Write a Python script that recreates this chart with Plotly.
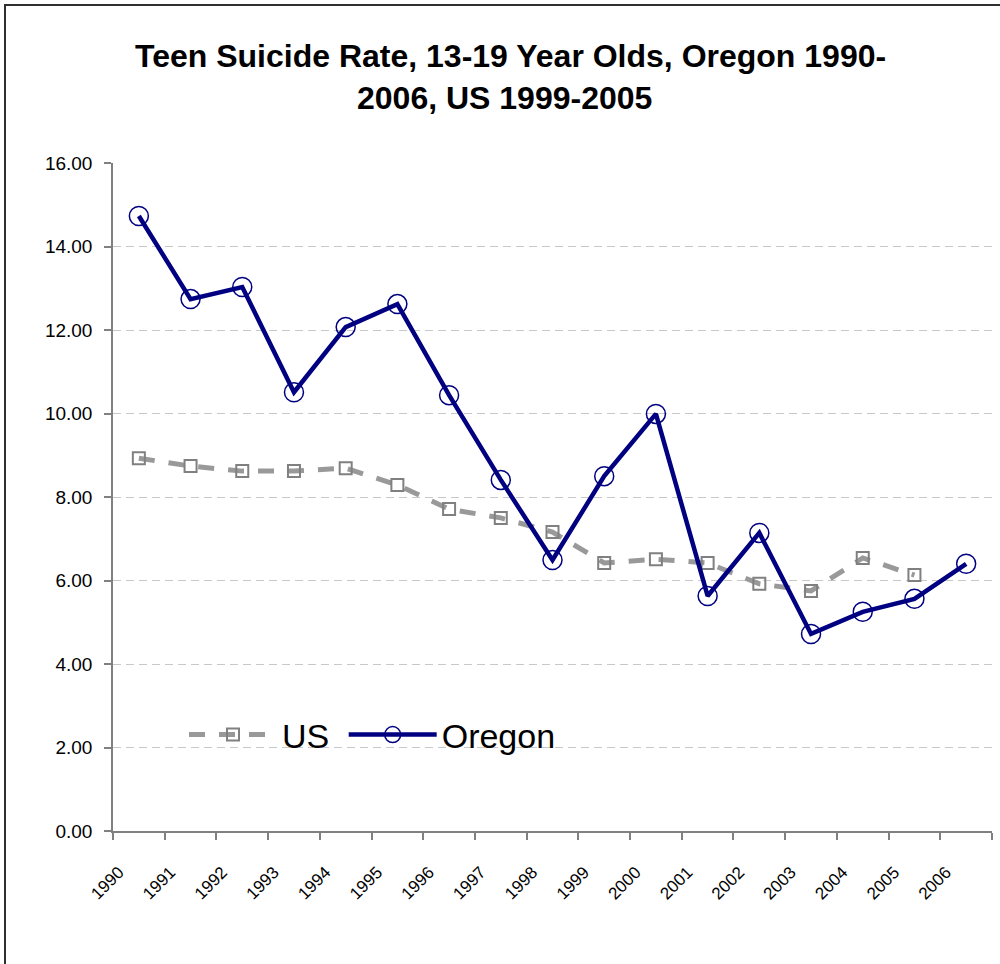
import plotly.graph_objects as go

years = [str(y) for y in range(1990, 2007)]
us_years = years[:16]
us_values = [8.93, 8.74, 8.62, 8.62, 8.69, 8.29, 7.71, 7.50, 7.16, 6.42, 6.51, 6.42, 5.92, 5.75, 6.54, 6.13]
oregon_values = [14.73, 12.74, 13.03, 10.51, 12.07, 12.62, 10.44, 8.41, 6.49, 8.50, 9.99, 5.63, 7.14, 4.72, 5.25, 5.56, 6.40]
y_ticks = [0, 2, 4, 6, 8, 10, 12, 14, 16]

fig = go.Figure()
fig.add_trace(go.Scatter(
    x=us_years, y=us_values, name="US\u00a0", mode="lines+markers",
    line=dict(color="#999999", width=5, dash="16px,14px"),
    marker=dict(symbol="square-open", size=12, color="#808080", line=dict(width=2, color="#808080")),
))
fig.add_trace(go.Scatter(
    x=years, y=oregon_values, name="Oregon", mode="lines+markers",
    line=dict(color="#000080", width=4.5),
    marker=dict(symbol="circle-open", size=19, color="#000080", line=dict(width=1.5, color="#000080")),
))

L, R, T, B = 113, 8, 163, 133
pw = 1000 - L - R
ph = 964 - T - B

def px_x(p):
    return (p - L) / pw

def px_y(p):
    return (964 - B - p) / ph

fig.update_layout(
    width=1000, height=964,
    margin=dict(l=L, r=R, t=T, b=B),
    paper_bgcolor="white", plot_bgcolor="white",
    font=dict(family="Liberation Sans, Arial, sans-serif", color="black"),
    showlegend=True,
    legend=dict(orientation="h", x=px_x(184), y=px_y(735), xanchor="left", yanchor="middle",
                font=dict(size=34, color="black"), bgcolor="rgba(0,0,0,0)", itemwidth=88),
    xaxis=dict(type="category", categoryorder="array", categoryarray=years,
               range=[-0.5, 16.5], tickson="boundaries", ticks="outside", ticklen=7,
               tickcolor="#808080", tickwidth=1.5, showline=True, linecolor="#808080", linewidth=1.5,
               showgrid=False, tickangle=-45, tickfont=dict(size=17), zeroline=False,
               ticklabelstandoff=23, ticklabelshift=-20),
    yaxis=dict(range=[0, 16], tickvals=y_ticks, tickformat=".2f", ticks="outside", ticklen=7,
               tickcolor="#808080", tickwidth=1.5, showline=True, linecolor="#808080", linewidth=1.5,
               showgrid=True, gridcolor="#c8c8c8", griddash="8px,5px", gridwidth=1,
               zeroline=False, tickfont=dict(size=19), ticklabelstandoff=8),
    annotations=[
        dict(text="<b>Teen Suicide Rate, 13-19 Year Olds, Oregon 1990-</b>", xref="paper", yref="paper",
             x=px_x(510), y=px_y(56), xanchor="center", yanchor="middle", showarrow=False,
             font=dict(size=32, color="black")),
        dict(text="<b>2006, US 1999-2005</b>", xref="paper", yref="paper",
             x=px_x(504), y=px_y(98), xanchor="center", yanchor="middle", showarrow=False,
             font=dict(size=32, color="black")),
    ],
    shapes=[
        dict(type="rect", xref="paper", yref="paper", x0=px_x(5), x1=px_x(1010), y0=px_y(980), y1=px_y(5),
             line=dict(color="#303030", width=2), fillcolor="rgba(0,0,0,0)", layer="below"),
    ],
)

fig.write_html("out.html")
